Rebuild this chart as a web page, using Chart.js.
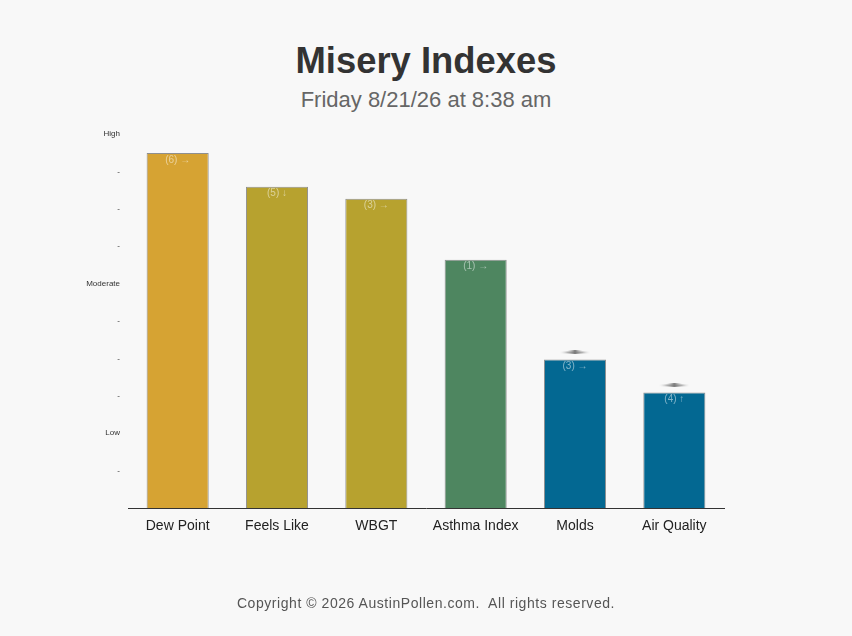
<!DOCTYPE html>
<html>
<head>
<meta charset="utf-8">
<script src="https://cdn.jsdelivr.net/npm/chart.js@4.4.1/dist/chart.umd.min.js"></script>
<style>
  body { margin: 0; background: #f8f8f8; font-family: "Liberation Sans", Arial, sans-serif; }
  #wrap { position: relative; width: 852px; height: 636px; }
  #title { position: absolute; top: 38px; left: 0; width: 852px; text-align: center; font-size: 36.4px; font-weight: bold; color: #333; margin: 0; line-height: 46px; }
  #subtitle { position: absolute; top: 86px; left: 0; width: 852px; text-align: center; font-size: 22px; color: #666; margin: 0; line-height: 28px; }
  #footer { position: absolute; top: 593px; left: 0; width: 852px; text-align: center; font-size: 14px; color: #555; letter-spacing: 0.55px; line-height: 20px; }
  canvas { position: absolute; top: 0; left: 0; }
</style>
</head>
<body>
<div id="wrap">
  <div id="title">Misery Indexes</div>
  <div id="subtitle">Friday 8/21/26 at 8:38 am</div>
  <canvas id="miseryChart" width="852" height="636"></canvas>
  <div id="footer">Copyright © 2026 AustinPollen.com.&nbsp; All rights reserved.</div>
</div>
<script>
// chart values
const categories = ['Dew Point', 'Feels Like', 'WBGT', 'Asthma Index', 'Molds', 'Air Quality'];
const levels = [9.49, 8.59, 8.27, 6.64, 3.97, 3.09];
const forecastLevels = [null, null, null, null, 4.16, 3.28];
const barLabels = ['(6) \u2192', '(5) \u2193', '(3) \u2192', '(1) \u2192', '(3) \u2192', '(4) \u2191'];
const barColors = ['#d6a333', '#b7a22f', '#b7a22f', '#4e8660', '#036892', '#036892'];
const yTickNames = { 0: '', 2: 'Low', 6: 'Moderate', 10: 'High' };

// flat diamond used as the marker above some bars
function makeMarker() {
    const c = document.createElement('canvas');
    c.width = 30;
    c.height = 4;
    const g = c.getContext('2d');
    const grad = g.createLinearGradient(0, 0, 30, 0);
    grad.addColorStop(0, 'rgba(150,150,150,0.2)');
    grad.addColorStop(0.5, 'rgba(120,120,120,1)');
    grad.addColorStop(1, 'rgba(150,150,150,0.2)');
    g.fillStyle = grad;
    g.beginPath();
    g.moveTo(0, 2);
    g.lineTo(15, 0);
    g.lineTo(30, 2);
    g.lineTo(15, 4);
    g.closePath();
    g.fill();
    return c;
}

const barTextPlugin = {
    id: 'barText',
    afterDatasetsDraw(chart) {
        const ctx = chart.ctx;
        const meta = chart.getDatasetMeta(0);
        ctx.save();
        ctx.font = '10px "Liberation Sans", Arial, sans-serif';
        ctx.fillStyle = 'rgba(255,255,255,0.5)';
        ctx.textAlign = 'center';
        ctx.textBaseline = 'middle';
        meta.data.forEach((bar, i) => {
            ctx.fillText(barLabels[i], bar.x, bar.y + 7);
        });
        ctx.restore();
    }
};

const ctx = document.getElementById('miseryChart').getContext('2d');
new Chart(ctx, {
    data: {
        labels: categories,
        datasets: [{
            type: 'bar',
            data: levels,
            backgroundColor: barColors,
            borderColor: '#8f8f8f',
            borderWidth: 1,
            barPercentage: 0.625,
            categoryPercentage: 1,
            order: 2
        }, {
            type: 'line',
            data: forecastLevels,
            showLine: false,
            pointStyle: makeMarker(),
            order: 1
        }]
    },
    options: {
        responsive: false,
        animation: false,
        layout: { padding: { top: 134, right: 128, left: 0, bottom: 0 } },
        plugins: {
            legend: { display: false },
            tooltip: { enabled: false }
        },
        scales: {
            x: {
                grid: { display: false, drawTicks: false },
                border: { display: true, color: '#333', width: 1 },
                ticks: {
                    padding: 10,
                    color: '#222',
                    font: { size: 14, family: '"Liberation Sans", Arial, sans-serif' }
                },
                afterFit: s => { s.height = 128; }
            },
            y: {
                min: 0,
                max: 10,
                grid: { display: false, drawTicks: false },
                border: { display: false },
                ticks: {
                    stepSize: 1,
                    padding: 8,
                    color: '#333',
                    font: { size: 8, family: '"Liberation Sans", Arial, sans-serif' },
                    callback: v => (v in yTickNames ? yTickNames[v] : '-')
                },
                afterFit: s => { s.width = 128; }
            }
        }
    },
    plugins: [barTextPlugin]
});
</script>
</body>
</html>
